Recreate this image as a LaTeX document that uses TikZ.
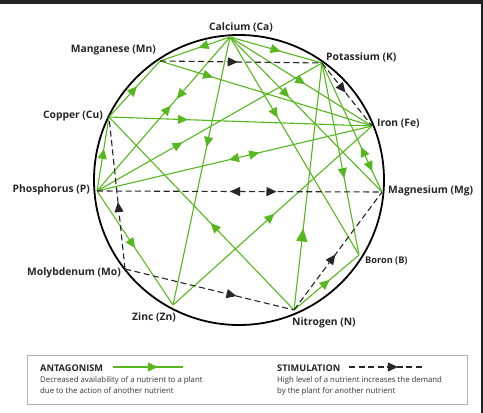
\documentclass[tikz,border=0pt]{standalone}
\usepackage{fontspec}
\setmainfont{Open Sans}
\usetikzlibrary{decorations.markings,arrows.meta}
\definecolor{agreen}{RGB}{86,184,30}
\definecolor{darkbar}{RGB}{34,34,34}
\tikzset{
  ant/.style={color=agreen, line width=1.1pt},
  stim/.style={color=black!85, line width=1.1pt, dash pattern=on 6pt off 3.5pt},
  fa/.style={postaction={decorate,decoration={markings,mark=at position #1 with {\arrow{Triangle[length=10pt,width=9pt]}}}}},
  ra/.style={postaction={decorate,decoration={markings,mark=at position #1 with {\arrowreversed{Triangle[length=10pt,width=9pt]}}}}},
  bigfa/.style={postaction={decorate,decoration={markings,mark=at position #1 with {\arrow{Triangle[length=13pt,width=11pt]}}}}},
  lbl/.style={font=\bfseries\fontsize{10.3}{12}\selectfont, inner sep=0pt, text=black!85},
  pt/.style={inner sep=0pt, minimum size=0pt}
}
\begin{document}
\begin{tikzpicture}[x=1pt,y=-1pt]
\useasboundingbox (0,0) rectangle (483,413);
\fill[white] (0,0) rectangle (483,413);
\fill[darkbar] (0,0) rectangle (483,3.5);
\fill[darkbar] (480.5,0) rectangle (483,413);
% circle
\draw[line width=1.8pt] (239,180) circle (145);
% points
\node[pt] (Ca) at (230,37) {};
\node[pt] (Mn) at (160,61) {};
\node[pt] (K) at (322,63) {};
\node[pt] (Cu) at (109,117) {};
\node[pt] (Fe) at (372,126) {};
\node[pt] (P) at (97,191) {};
\node[pt] (Mg) at (382,192) {};
\node[pt] (B) at (359,255) {};
\node[pt] (Mo) at (125,269) {};
\node[pt] (Zn) at (173,305) {};
\node[pt] (N) at (294,310) {};
% labels
\node[lbl] (lCa) at (241,27) {Calcium (Ca)};
\node[lbl, anchor=east] (lMn) at (156,50) {Manganese (Mn)};
\node[lbl, anchor=west] (lK) at (326,57) {Potassium (K)};
\node[lbl, anchor=east] (lCu) at (103,116) {Copper (Cu)};
\node[lbl, anchor=west] (lFe) at (377,124) {Iron (Fe)};
\node[lbl, anchor=east] (lP) at (90,190) {Phosphorus (P)};
\node[lbl, anchor=west] (lMg) at (388,191) {Magnesium (Mg)};
\node[lbl, anchor=west, font=\bfseries\fontsize{9.2}{11}\selectfont] (lB) at (365,261) {Boron (B)};
\node[lbl, anchor=east] (lMo) at (121,273) {Molybdenum (Mo)};
\node[lbl, anchor=east] (lZn) at (176,317) {Zinc (Zn)};
\node[lbl, anchor=west] (lN) at (292,323) {Nitrogen (N)};
% antagonism
\draw[ant, fa=0.45] (Ca) -- (Mn);
\draw[ant, fa=0.55] (Ca) -- (K);
\draw[ant, fa=0.40, ra=0.445] (Ca) -- (P);
\draw[ant, fa=0.41] (Ca) -- (Zn);
\draw[ant, fa=0.53] (Ca) -- (Fe);
\draw[ant, fa=0.39] (Ca) -- (Mg);
\draw[ant, fa=0.37] (Ca) -- (B);
\draw[ant, fa=0.55] (Cu) -- (Mn);
\draw[ant, fa=0.25] (Mn) -- (Fe);
\draw[ant, fa=0.3] (Cu) -- (Fe);
\draw[ant, fa=0.57] (P) -- (Cu);
\draw[ant, fa=0.38] (P) -- (K);
\draw[ant, ra=0.48, fa=0.59] (P) -- (Fe);
\draw[ant, fa=0.5] (P) -- (Zn);
\draw[ant, fa=0.45] (N) -- (Cu);
\draw[ant, fa=0.51] (Zn) -- (Fe);
\draw[ant, bigfa=0.33] (N) -- (K);
\draw[ant, fa=0.55] (N) -- (B);
\draw[ant, fa=0.6] (K) -- (B);
\draw[ant, ra=0.65, fa=0.84] (K) -- (Mg);
% stimulation
\draw[stim, fa=0.48] (Mn) -- (K);
\draw[stim, fa=0.47] (K) -- (Fe);
\draw[stim, fa=0.44] (Mo) -- (Cu);
\draw[stim, ra=0.467, fa=0.63] (P) -- (Mg);
\draw[stim, fa=0.66] (Mo) -- (N);
\draw[stim, fa=0.47] (N) -- (Mg);
% legend
\draw[black!30, line width=0.6pt] (27,355) rectangle (467,404);
\node[anchor=west, inner sep=0pt, text=black!85, font=\bfseries\fontsize{9.2}{10}\selectfont] (antt) at (40,368) {ANTAGONISM};
\coordinate (a1) at (113,367);
\coordinate (a2) at (183,367);
\draw[ant, fa=0.64] (a1) -- (a2);
\node[anchor=north west, inner sep=0pt, align=left, text=black!80, font=\fontsize{7.8}{11}\selectfont] (antd) at (40,376) {Decreased availability of a nutrient to a plant\\due to the action of another nutrient};
\node[anchor=west, inner sep=0pt, text=black!85, font=\bfseries\fontsize{9.2}{10}\selectfont] (stimt) at (277,368) {STIMULATION};
\coordinate (s1) at (349,367);
\coordinate (s2) at (423,367);
\draw[stim, fa=0.66] (s1) -- (s2);
\node[anchor=north west, inner sep=0pt, align=left, text=black!80, font=\fontsize{7.8}{11}\selectfont] (stimd) at (277,376) {High level of a nutrient increases the demand\\by the plant for another nutrient};
\end{tikzpicture}
\end{document}
